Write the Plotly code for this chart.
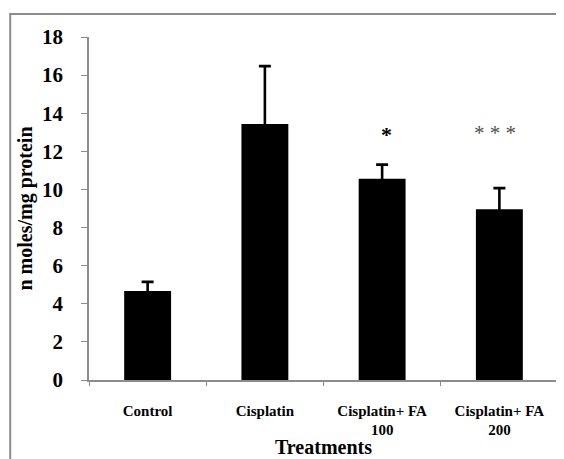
import plotly.graph_objects as go

categories = ["Control", "Cisplatin", "Cisplatin+ FA<br>100", "Cisplatin+ FA<br>200"]
values = [4.67, 13.43, 10.56, 8.96]
errors = [0.48, 3.04, 0.74, 1.11]
sig_labels = ["", "", "*", "* * *"]
sig_y = [None, None, 13.12, 13.22]
y_ticks = [0, 2, 4, 6, 8, 10, 12, 14, 16, 18]
x_title = "Treatments"

FONT = "Liberation Serif, Times New Roman, serif"
x_labels = [f"<b>{c}</b>" for c in categories]

fig = go.Figure()
fig.add_trace(go.Bar(
    x=x_labels, y=values,
    marker=dict(color="black", line=dict(width=0)),
    error_y=dict(type="data", symmetric=True, array=errors,
                 color="black", thickness=2.6, width=6),
    width=0.40,
))

for c, s, yy in zip(x_labels, sig_labels, sig_y):
    if s:
        star1 = s == "*"
        fig.add_annotation(
            x=c, y=yy, text=f"<b>{s}</b>" if star1 else s, showarrow=False,
            xref="x", yref="y",
            font=dict(family=FONT, size=22 if star1 else 21,
                      color="black" if star1 else "#505050"),
            xshift=4 if star1 else -4, yshift=-5,
        )

fig.add_annotation(
    x=0.5, y=-0.196, xref="paper", yref="paper", showarrow=False,
    text=f"<b>{x_title}</b>", yanchor="middle", xanchor="center",
    font=dict(family=FONT, size=20, color="black"),
)

fig.add_shape(type="rect", xref="paper", yref="paper",
              x0=-0.168, x1=1.06, y0=-0.3, y1=1.067,
              line=dict(color="#8c8c8c", width=2), layer="below")

fig.update_layout(
    width=556, height=451,
    margin=dict(l=81, r=6, t=29, b=79),
    paper_bgcolor="white", plot_bgcolor="white",
    showlegend=False,
    font=dict(family=FONT, color="black"),
    xaxis=dict(
        showline=True, linecolor="#8c8c8c", linewidth=1.5,
        ticks="outside", tickson="boundaries", ticklen=4, tickcolor="#8c8c8c",
        tickfont=dict(family=FONT, size=15, color="black"),
        ticklabelstandoff=16, automargin=False,
        showgrid=False,
    ),
    yaxis=dict(
        range=[0, 18], tickvals=y_ticks, ticktext=[f"<b>{v}</b>" for v in y_ticks],
        showline=True, linecolor="#8c8c8c", linewidth=1.5,
        ticks="outside", ticklen=6, tickcolor="#8c8c8c",
        tickfont=dict(family=FONT, size=21, color="black"),
        ticklabelstandoff=14, automargin=False,
        title=dict(text="<b>n moles/mg protein</b>", font=dict(family=FONT, size=20), standoff=4),
        showgrid=False, zeroline=False,
    ),
)

fig.write_html("out.html")
